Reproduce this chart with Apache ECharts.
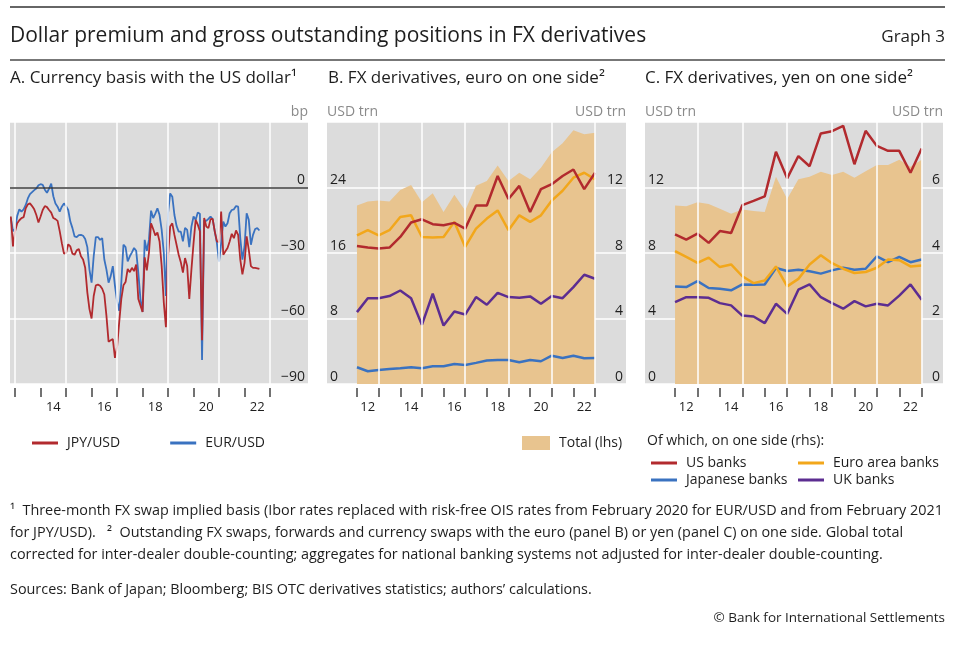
<!DOCTYPE html>
<html><head><meta charset="utf-8">
<script src="https://cdn.jsdelivr.net/npm/echarts@6/dist/echarts.min.js"></script>
<style>html,body{margin:0;padding:0;background:#fff}#c{width:960px;height:649px}</style>
</head><body><div id="c"></div>
<script>
// ---------- DATA ----------
// Panel A: monthly, end-of-month, starting October 2012
const basisStart = { year: 2012, month: 10 };
const jpyUsd = [-13.3,-27,-20,-16.4,-15,-14,-13.6,-9.5,-7.7,-7.3,-8.5,-10,-12.6,-16,-13.3,-10.3,-8.5,-9,-10.3,-11.5,
  -14,-14.5,-15.3,-20,-25.5,-30.3,-30,-26,-27,-30.3,-30.8,-28.8,-28.2,-31.5,-33,-36.8,-48,-55.7,-60,-49.7,
  -44.8,-44.5,-45,-46.4,-49,-58.8,-70.6,-70,-69.4,-78,-73,-61.8,-51,-44.8,-43.3,-37.3,-38.8,-36.8,-38.3,-35.3,
  -51,-54,-57,-32,-38,-30,-16.4,-19,-22,-20.6,-24.7,-36,-52.7,-64,-31.5,-17.9,-16.4,-21.7,-26.2,-30.8,
  -34.2,-39,-32.3,-36,-51,-37.6,-25.5,-14.8,-17,-20,-70,-14,-17.9,-18.6,-14.5,-14.4,-20.2,-24.7,-25,-11,
  -30.8,-29.2,-27.7,-24.7,-21.2,-23.2,-19.7,-21.7,-33,-39.8,-34.5,-22.4,-28.5,-36,-36.8,-36.8,-37,-37.3];
const eurUsd = [-14,-20,-19,-13,-10,-11,-10,-8,-5,-3,-2.1,-1.2,-0.5,1,1.5,1.2,-1,-2.4,-0.5,1.8,
  -4,-7.3,-8.8,-11,-8.8,-7.3,-8.5,-10.3,-15.6,-18.6,-22.4,-22.7,-21.8,-21.7,-22.1,-23.6,-27.3,-37.6,-43.6,-31.5,
  -22.7,-22.7,-24,-23.2,-33,-37.6,-43.6,-40.6,-36,-45,-52,-56.5,-43.6,-26.2,-27.3,-33.8,-31.5,-29.7,-27.7,-29,
  -39,-51,-57,-24,-29,-24,-10.6,-14,-12,-9.5,-12.6,-19.4,-30,-49.7,-11.8,-2.7,-4.2,-12.6,-17.6,-20.2,
  -20.2,-24.7,-18.5,-19.4,-27.3,-17.9,-13.3,-14.8,-11.5,-12,-79,-15,-15.3,-14.4,-13.3,-14.5,-20.2,-25.5,-34,-25.5,
  -15.6,-17.9,-16.4,-11.8,-10.3,-10,-8.5,-8.8,-23.2,-33,-27,-11.8,-14.8,-26.2,-21.7,-19,-18.6,-19.7];
const basisTickYears = [2013,2014,2015,2016,2017,2018,2019,2020,2021,2022,2023];
const basisLabelYears = [2014,2016,2018,2020,2022];
const basisGridYears = [2013,2015,2017,2019,2021,2023];

// Panels B and C: semi-annual positions, end-Dec 2011 to end-Dec 2022
const periods = ['2011-12','2012-06','2012-12','2013-06','2013-12','2014-06','2014-12','2015-06','2015-12','2016-06','2016-12',
  '2017-06','2017-12','2018-06','2018-12','2019-06','2019-12','2020-06','2020-12','2021-06','2021-12','2022-06','2022-12'];
const periodTickIdx = [0,2,4,6,8,10,12,14,16,18,20,22];
const periodLabelIdx = [1,5,9,13,17,21];
const periodLabels = ['12','14','16','18','20','22'];
const periodGridIdx = [2,6,10,14,18,22];

const eurTotal = [21.8,22.3,22.4,22.3,23.7,24.3,22.2,23.3,21.0,23.1,21.2,24.2,24.8,26.7,24.8,25.8,25.0,26.4,28.3,29.4,31.0,30.5,30.7];
const eurUS    = [8.43,8.33,8.27,8.33,8.98,9.86,10.06,9.76,9.69,9.84,9.49,10.9,10.9,12.7,11.3,12.1,10.5,11.9,12.2,12.7,13.1,11.9,12.9];
const eurEA    = [9.08,9.39,9.08,9.39,10.2,10.3,8.98,8.94,8.98,9.90,8.37,9.49,10.1,10.6,9.39,10.3,9.90,10.3,11.2,11.8,12.6,12.9,12.5];
const eurJP    = [1.02,0.78,0.86,0.92,0.96,1.02,0.96,1.08,1.08,1.22,1.16,1.29,1.43,1.47,1.47,1.33,1.47,1.39,1.73,1.59,1.73,1.57,1.59];
const eurUK    = [4.39,5.24,5.24,5.37,5.71,5.24,3.61,5.51,3.57,4.43,4.24,5.31,4.84,5.57,5.31,5.27,5.35,4.90,5.37,5.24,5.92,6.67,6.43];

const yenTotal = [10.9,10.86,11.1,11.0,10.7,10.4,10.65,10.57,10.5,12.65,11.3,12.5,12.65,12.96,12.76,12.96,12.6,13.0,13.37,13.37,13.7,13.27,13.7];
const yenUS    = [4.57,4.41,4.59,4.31,4.67,4.61,5.46,5.59,5.73,7.09,6.28,6.96,6.65,7.65,7.72,7.88,6.71,7.73,7.27,7.12,7.12,6.45,7.19];
const yenEA    = [4.06,3.88,3.70,3.86,3.57,3.65,3.29,3.08,3.16,3.59,2.98,3.21,3.65,3.93,3.69,3.52,3.39,3.42,3.55,3.80,3.78,3.59,3.62];
const yenJP    = [2.98,2.96,3.14,2.93,2.91,2.86,3.04,3.03,3.04,3.54,3.45,3.49,3.44,3.37,3.47,3.55,3.49,3.52,3.90,3.72,3.88,3.72,3.80];
const yenUK    = [2.50,2.65,2.65,2.63,2.47,2.40,2.09,2.06,1.86,2.45,2.14,2.88,3.04,2.65,2.47,2.30,2.53,2.37,2.45,2.40,2.70,3.04,2.57];

// ---------- STYLE ----------
const FONT = "'Open Sans','Noto Sans',sans-serif";
const C = { red:'#B22A2E', blue:'#3A72C0', orange:'#F2A71B', purple:'#5C2D91', tan:'#E8C48F', bg:'#DCDCDC', text:'#1e1e1e', unit:'#8a8a8a' };

const basisX = i => basisStart.year + (basisStart.month + i) / 12;
const pairsA = arr => arr.map((v, i) => [basisX(i), v]);
const pairsP = arr => arr.map((v, i) => [i, v]);
const minus = v => v < 0 ? '\u2212' + Math.abs(v) : String(v);

function xAxisCfg(grid, min, max, ticks, labels, fmt) {
  return {
    gridIndex: grid, type: 'value', min: min, max: max, offset: 4,
    axisLine: { show: false, onZero: false }, splitLine: { show: false },
    axisTick: { show: true, customValues: ticks, length: 9, lineStyle: { color: '#444', width: 1.5 } },
    axisLabel: { customValues: labels, formatter: fmt, margin: 13, color: C.text, fontSize: 13, fontFamily: FONT }
  };
}
function yAxisCfg(grid, pos, min, max, step, name, split) {
  return {
    gridIndex: grid, type: 'value', position: pos, min: min, max: max, interval: step,
    name: name, nameLocation: 'end', nameGap: 3,
    nameTextStyle: { color: C.unit, fontSize: 14, fontFamily: FONT, align: pos, verticalAlign: 'bottom' },
    axisLine: { show: false, onZero: false }, axisTick: { show: false },
    axisLabel: { inside: true, margin: 3, verticalAlign: 'bottom', color: C.text, fontSize: 14, fontFamily: FONT,
      formatter: v => v === max ? '' : minus(v) },
    splitLine: { show: split, lineStyle: { color: '#fff', width: 1.5 } }
  };
}
function gridLineSeries(xIdx, yIdx, xs, extra) {
  const data = xs.map(x => ({ xAxis: x }));
  return {
    type: 'line', xAxisIndex: xIdx, yAxisIndex: yIdx, data: [], z: 1, silent: true,
    markLine: { silent: true, symbol: 'none', label: { show: false }, animation: false,
      lineStyle: { color: '#fff', width: 1.5, type: 'solid' }, data: data.concat(extra || []) }
  };
}
function lineS(name, xIdx, yIdx, data, color, w) {
  return { name: name, type: 'line', xAxisIndex: xIdx, yAxisIndex: yIdx, data: data, symbol: 'none',
    lineStyle: { color: color, width: w }, itemStyle: { color: color }, z: 3, animation: false };
}

const periodFmt = v => { const k = periodLabelIdx.indexOf(Math.round(v)); return k >= 0 ? periodLabels[k] : ''; };
const legendText = { fontSize: 14, color: C.text, fontFamily: FONT, padding: [0, 0, 0, 4] };

const option = {
  animation: false,
  textStyle: { fontFamily: FONT },
  grid: [
    { left: 10, top: 122, width: 298, height: 262, show: true, backgroundColor: C.bg, borderWidth: 0 },
    { left: 327, top: 122, width: 299, height: 262, show: true, backgroundColor: C.bg, borderWidth: 0 },
    { left: 645, top: 122, width: 298, height: 262, show: true, backgroundColor: C.bg, borderWidth: 0 }
  ],
  xAxis: [
    xAxisCfg(0, 2012.8, 2024.49, basisTickYears, basisLabelYears.map(y => y + 0.5), v => String(Math.floor(v)).slice(2)),
    xAxisCfg(1, -2.77, 24.86, periodTickIdx, periodLabelIdx, periodFmt),
    xAxisCfg(2, -2.68, 23.9, periodTickIdx, periodLabelIdx, periodFmt)
  ],
  yAxis: [
    yAxisCfg(0, 'right', -90, 30, 30, 'bp', true),
    yAxisCfg(1, 'left', 0, 32, 8, 'USD trn', true),
    yAxisCfg(1, 'right', 0, 16, 4, 'USD trn', false),
    yAxisCfg(2, 'left', 0, 16, 4, 'USD trn', true),
    yAxisCfg(2, 'right', 0, 8, 2, 'USD trn', false)
  ],
  legend: [
    { data: ['JPY/USD', 'EUR/USD'], left: 27, top: 431, icon: 'rect', itemWidth: 26, itemHeight: 3, itemGap: 50,
      selectedMode: false, textStyle: legendText },
    { data: ['Total (lhs)'], left: 517, top: 431, icon: 'rect', itemWidth: 28, itemHeight: 14,
      selectedMode: false, textStyle: legendText },
    { data: ['US banks', 'Japanese banks'], orient: 'vertical', left: 646, top: 451, icon: 'rect', itemWidth: 26, itemHeight: 3, itemGap: 3,
      selectedMode: false, textStyle: legendText },
    { data: ['Euro area banks', 'UK banks'], orient: 'vertical', left: 793, top: 451, icon: 'rect', itemWidth: 26, itemHeight: 3, itemGap: 3,
      selectedMode: false, textStyle: legendText }
  ],
  series: [
    gridLineSeries(0, 0, basisGridYears, [{ yAxis: 0, lineStyle: { color: '#3a3a3a', width: 1.5 } }]),
    lineS('EUR/USD', 0, 0, pairsA(eurUsd), C.blue, 1.8),
    lineS('JPY/USD', 0, 0, pairsA(jpyUsd), C.red, 1.8),

    gridLineSeries(1, 1, periodGridIdx),
    { name: 'Total (lhs)', type: 'line', xAxisIndex: 1, yAxisIndex: 1, data: pairsP(eurTotal), symbol: 'none',
      lineStyle: { width: 0 }, areaStyle: { color: C.tan, opacity: 1 }, itemStyle: { color: C.tan }, z: 2 },
    lineS('Japanese banks', 1, 2, pairsP(eurJP), C.blue, 2.5),
    lineS('UK banks', 1, 2, pairsP(eurUK), C.purple, 2.5),
    lineS('Euro area banks', 1, 2, pairsP(eurEA), C.orange, 2.5),
    lineS('US banks', 1, 2, pairsP(eurUS), C.red, 2.5),

    gridLineSeries(2, 3, periodGridIdx),
    { name: 'Total (lhs)', type: 'line', xAxisIndex: 2, yAxisIndex: 3, data: pairsP(yenTotal), symbol: 'none',
      lineStyle: { width: 0 }, areaStyle: { color: C.tan, opacity: 1 }, itemStyle: { color: C.tan }, z: 2 },
    lineS('Japanese banks', 2, 4, pairsP(yenJP), C.blue, 2.5),
    lineS('UK banks', 2, 4, pairsP(yenUK), C.purple, 2.5),
    lineS('Euro area banks', 2, 4, pairsP(yenEA), C.orange, 2.5),
    lineS('US banks', 2, 4, pairsP(yenUS), C.red, 2.5)
  ],
  graphic: [
    { type: 'rect', shape: { x: 10, y: 6, width: 935, height: 2 }, style: { fill: '#666' }, silent: true },
    { type: 'text', x: 10, y: 36, style: { text: 'Dollar premium and gross outstanding positions in FX derivatives', font: '21px ' + FONT, fill: C.text, verticalAlign: 'middle' } },
    { type: 'text', x: 945, y: 37, style: { text: 'Graph 3', font: '17px ' + FONT, fill: C.text, align: 'right', verticalAlign: 'middle' } },
    { type: 'rect', shape: { x: 10, y: 59, width: 935, height: 2 }, style: { fill: '#777' }, silent: true },
    { type: 'text', x: 10, y: 78, style: { text: 'A. Currency basis with the US dollar\u00b9', font: '17px ' + FONT, fill: C.text, verticalAlign: 'middle' } },
    { type: 'text', x: 328, y: 78, style: { text: 'B. FX derivatives, euro on one side\u00b2', font: '17px ' + FONT, fill: C.text, verticalAlign: 'middle' } },
    { type: 'text', x: 645, y: 78, style: { text: 'C. FX derivatives, yen on one side\u00b2', font: '17px ' + FONT, fill: C.text, verticalAlign: 'middle' } },
    { type: 'text', x: 647, y: 441, style: { text: 'Of which, on one side (rhs):', font: '14px ' + FONT, fill: C.text, verticalAlign: 'middle' } },
    { type: 'text', x: 10, y: 511, style: { text: '\u00b9  Three-month FX swap implied basis (Ibor rates replaced with risk-free OIS rates from February 2020 for EUR/USD and from February 2021', font: '14.4px ' + FONT, fill: C.text, verticalAlign: 'middle' } },
    { type: 'text', x: 10, y: 533, style: { text: 'for JPY/USD).   \u00b2  Outstanding FX swaps, forwards and currency swaps with the euro (panel B) or yen (panel C) on one side. Global total', font: '14.4px ' + FONT, fill: C.text, verticalAlign: 'middle' } },
    { type: 'text', x: 10, y: 555, style: { text: 'corrected for inter-dealer double-counting; aggregates for national banking systems not adjusted for inter-dealer double-counting.', font: '14.4px ' + FONT, fill: C.text, verticalAlign: 'middle' } },
    { type: 'text', x: 10, y: 590, style: { text: 'Sources: Bank of Japan; Bloomberg; BIS OTC derivatives statistics; authors\u2019 calculations.', font: '14.4px ' + FONT, fill: C.text, verticalAlign: 'middle' } },
    { type: 'text', x: 945, y: 618, style: { text: '\u00a9 Bank for International Settlements', font: '13.5px ' + FONT, fill: C.text, align: 'right', verticalAlign: 'middle' } }
  ]
};
const chart = echarts.init(document.getElementById('c'), null, { renderer: 'canvas' });
chart.setOption(option);
</script></body></html>
